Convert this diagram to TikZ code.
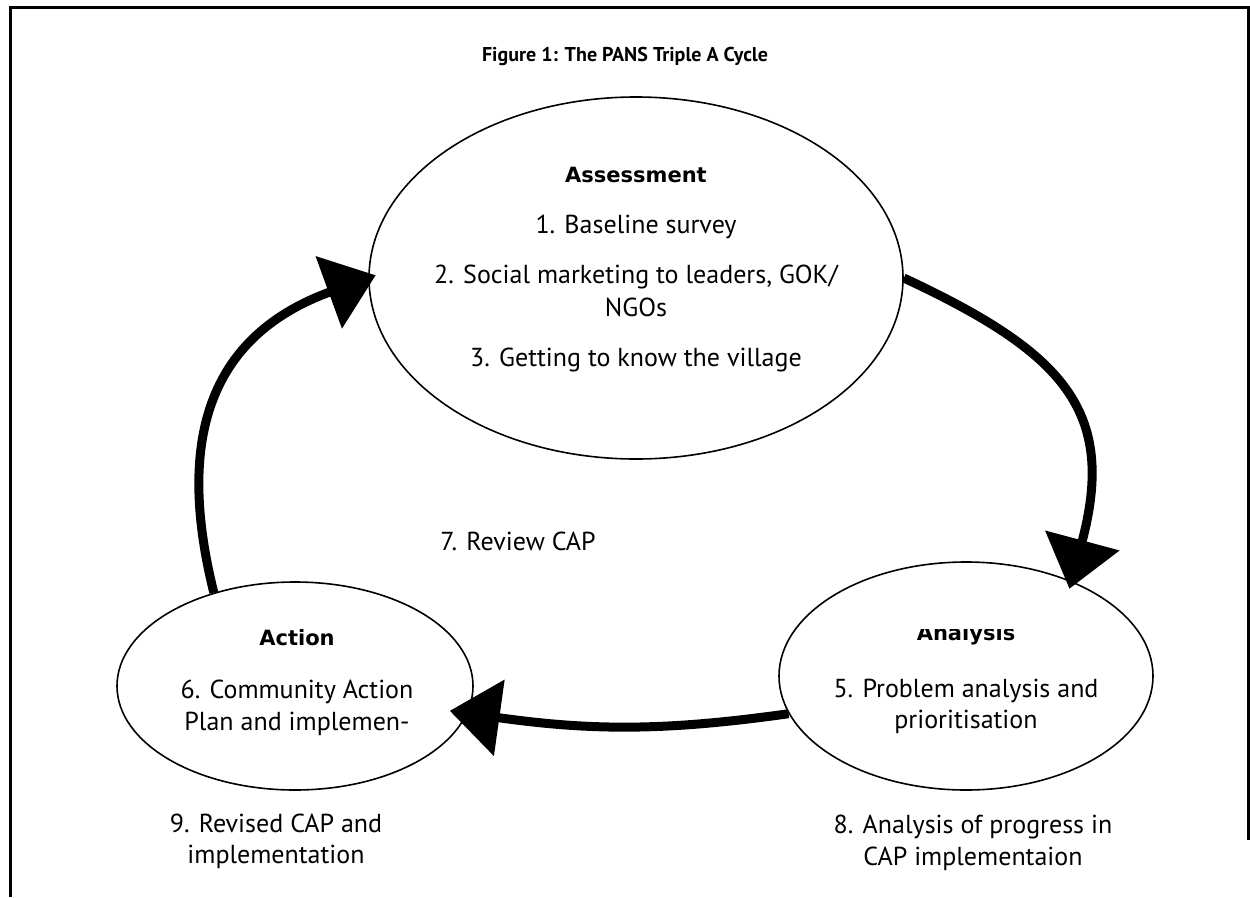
\documentclass[tikz,border=0pt]{standalone}
\usepackage{fontspec}
\setmainfont{PT Sans}
\newfontfamily\headfont{DejaVu Sans}
\usetikzlibrary{shapes.geometric}
\usetikzlibrary{arrows.meta}
\usetikzlibrary{positioning}

\tikzset{
  stage/.style={ellipse, draw, line width=1.6pt, inner sep=0pt},
  loopline/.style={line width=9pt, -{Triangle[length=50pt,width=75pt]}, shorten >=-8pt},
  stagehd/.style={anchor=base, inner sep=0pt, font=\headfont\bfseries\fontsize{21}{25}\selectfont},
  item/.style={anchor=base, inner sep=0pt, font=\fontsize{26}{31}\selectfont},
  figtitle/.style={anchor=base, inner sep=0pt, font=\bfseries\fontsize{20}{24}\selectfont}
}

\begin{document}
\begin{tikzpicture}[x=1pt, y=-1pt]
\useasboundingbox (0,0) rectangle (1250,897);
\draw[line width=3pt] (10,897) -- (10,7) -- (1248,7) -- (1248,840);

\node[figtitle] (title) at (625,61) {Figure 1: The PANS Triple A Cycle};

\node[stage, minimum width=534pt, minimum height=362pt] (assess) at (636,278) {};
\node[stage, minimum width=374pt, minimum height=228pt] (analysis) at (966,676) {};
\node[stage, minimum width=356pt, minimum height=208pt] (action) at (295,686) {};

% Assessment
\node[stagehd] (assesshd) at (636,182) {Assessment};
\node[item] (a1) at (636,233) {1. Baseline survey};
\node[item] (a2) at (636,283) {2. Social marketing to leaders, GOK/};
\node[item] (a2b) at (636,316) {NGOs};
\node[item] (a3) at (636,366) {3. Getting to know the village};

% Analysis
\begin{scope}
\clip (700,629) rectangle (1200,700);
\node[stagehd] (analysishd) at (966,640) {Analysis};
\end{scope}
\node[item] (n5) at (966,697) {5. Problem analysis and};
\node[item] (n5b) at (966,728) {prioritisation};

% Action
\node[stagehd] (actionhd) at (297,645) {Action};
\node[item] (n6) at (297,698) {6. Community Action};
\node[item] (n6b) at (297,730) {Plan and implemen-};

\node[item] (n7) at (518,550) {7. Review CAP};
\node[item] (n8) at (973,833) {8. Analysis of progress in};
\node[item] (n8b) at (973,865) {CAP implementaion};
\node[item] (n9) at (276,832) {9. Revised CAP and};
\node[item] (n9b) at (276,863) {implementation};

\draw[loopline] (assess.0) to[out=-25, in=75, looseness=1.3] (analysis.42);
\draw[loopline, shorten >=-18pt] (analysis.192) to[out=188, in=-8] (action.-9);
\draw[loopline] (action.131) to[out=104, in=200, looseness=1.2] (assess.180);
\end{tikzpicture}
\end{document}
